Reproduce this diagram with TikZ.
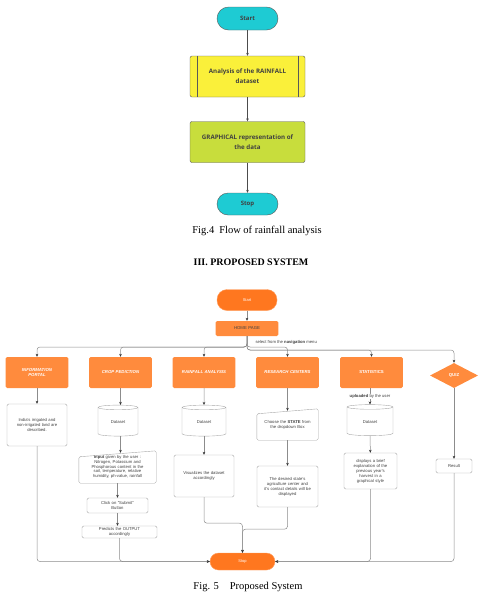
\documentclass[tikz,border=0pt]{standalone}
\usepackage{fontspec}
\setmainfont{Liberation Serif}
\newfontfamily\flowfont{Open Sans}
\newfontfamily\sysfont{Liberation Sans}
\usetikzlibrary{shapes.geometric,arrows.meta}

\definecolor{termcyan}{HTML}{1ECBD3}
\definecolor{anayellow}{HTML}{FAF03A}
\definecolor{graphgreen}{HTML}{C8DD3C}
\definecolor{termorange}{HTML}{FF771F}
\definecolor{menuorange}{HTML}{FF8B3D}
\definecolor{linegray}{HTML}{8C8C8C}
\definecolor{boxgray}{HTML}{A8A8A8}
\definecolor{txtgray}{HTML}{404040}

\tikzset{
  % first chart (Fig. 4)
  termfour/.style={draw=black!65, fill=termcyan, rounded corners=11.5pt,
    minimum width=61pt, minimum height=23pt, text=txtgray,
    font=\flowfont\bfseries\fontsize{6}{7}\selectfont},
  procfour/.style={draw=black!65, rounded corners=2pt, minimum width=115pt,
    minimum height=41pt, align=center, text=txtgray,
    font=\flowfont\bfseries\fontsize{6.2}{9.8}\selectfont},
  % second chart (Fig. 5)
  termfive/.style={fill=termorange, draw=termorange!70, rounded corners=9pt,
    minimum height=19pt, text=white, font=\sysfont\fontsize{4}{5}\selectfont},
  menufive/.style={fill=menuorange, rounded corners=1.5pt, minimum width=60pt,
    minimum height=31pt, text width=56pt, align=center, text=white,
    font=\sysfont\bfseries\itshape\fontsize{4.3}{5.3}\selectfont},
  boxfive/.style={draw=boxgray, fill=white, rounded corners=1.5pt, inner sep=1pt,
    align=center, text=txtgray, font=\sysfont\fontsize{4.2}{5}\selectfont},
  dbfive/.style={cylinder, shape border rotate=90, aspect=0.22, draw=boxgray,
    minimum width=44pt, minimum height=31pt, text=txtgray,
    font=\sysfont\fontsize{4.2}{5}\selectfont},
  slantfive/.style={inner sep=1pt, align=center, text=txtgray,
    font=\sysfont\fontsize{4.2}{4.8}\selectfont},
  link/.style={draw=linegray, line width=0.5pt, rounded corners=3pt},
  arrow/.style={link, -{Stealth[length=3pt,width=2.6pt,color=black!80]}},
}

\begin{document}
\begin{tikzpicture}[x=1pt, y=-1pt, >={Stealth[length=3pt,width=2.6pt]}]
  \useasboundingbox (0,0) rectangle (491,603);

  % Fig. 4
  \node[termfour] (start4) at (247.5,18.5) {Start};
  \node[procfour, fill=anayellow] (ana) at (247.5,76.5) {Analysis of the RAINFALL\\dataset};
  \node[procfour, fill=graphgreen] (graph) at (247.5,142) {GRAPHICAL representation of\\the data};
  \node[termfour, minimum height=22pt, rounded corners=11pt] (stop4) at (247.5,204) {Stop};
  \draw[black!65] ([xshift=7pt]ana.north west) -- ([xshift=7pt]ana.south west);
  \draw[black!65] ([xshift=-7pt]ana.north east) -- ([xshift=-7pt]ana.south east);

  \draw[->, black!70, line width=0.5pt] (start4) to (ana);
  \draw[->, black!70, line width=0.5pt] (ana) to (graph);
  \draw[->, black!70, line width=0.5pt] (graph) to (stop4);

  \node[font=\fontsize{10.5}{12}\selectfont] (cap4) at (257,231) {Fig.4\hspace{5pt}Flow of rainfall analysis};
  \node[font=\bfseries\fontsize{10}{12}\selectfont] (sect) at (251,262) {III. PROPOSED SYSTEM};

  % Fig. 5
  \node[termfive, minimum width=60pt, minimum height=21pt, rounded corners=10pt] (start5) at (247,300) {Start};
  \node[menufive, minimum height=15pt, text=txtgray, font=\sysfont\fontsize{4.3}{5}\selectfont] (home) at (247,328.5) {HOME PAGE};
  \coordinate (bus) at (247,347);
  \coordinate (busb) at (247,350);
  \node[font=\sysfont\fontsize{4.2}{5}\selectfont, text=txtgray, anchor=west] (navtxt) at (252,342) {select from the \textbf{navigation} menu};

  \node[menufive] (info) at (37,372.5) {INFORMATION\\PORTAL};
  \node[menufive] (crop) at (120.5,372.5) {CROP PEDICTION};
  \node[menufive] (rain) at (204,372.5) {RAINFALL ANALYSIS};
  \node[menufive] (rc) at (287.5,372.5) {RESEARCH CENTERS};
  \node[menufive, font=\sysfont\bfseries\fontsize{4.3}{5.3}\selectfont] (stat) at (371.5,372.5) {STATISTICS};
  \node[diamond, fill=menuorange, aspect=1.9, inner sep=0pt, minimum width=48pt, minimum height=25pt,
    text=white, font=\sysfont\bfseries\fontsize{4.3}{5}\selectfont] (quiz) at (454,375.5) {QUIZ};

  % column texts
  \node[boxfive, minimum width=60pt, minimum height=42pt, text width=56pt] (infotxt) at (37,425) {India's irrigated and\\non-irrigated land are\\described.};

  \node[dbfive, minimum width=40pt] (cropdb) at (118,422.5) {Dataset};
  \node[slantfive, minimum width=77pt, minimum height=32pt, text width=74pt] (inp) at (117.5,467) {\textbf{Input} given by the user :\\Nitrogen, Potassium and\\Phosphorous content in the\\soil, temperature, relative\\humidity, ph-value, rainfall};
  \draw[draw=boxgray, rounded corners=1.5pt] (inp.south west) -- ([yshift=-6pt]inp.north west) -- (inp.north east) -- (inp.south east) -- cycle;
  \node[boxfive, minimum width=61pt, minimum height=15pt, text width=58pt] (click) at (117.5,505.5) {Click on "Submit"\\Button};
  \node[boxfive, minimum width=75pt, minimum height=12pt, text width=72pt] (pred) at (119.5,532) {Predicts the OUTPUT\\accordingly};

  \node[dbfive] (raindb) at (204,422.5) {Dataset};
  \node[boxfive, minimum width=60pt, minimum height=42pt, text width=56pt] (viz) at (204,476) {Visualizes the dataset\\accordingly};

  \node[slantfive, minimum width=61pt, minimum height=31pt, text width=58pt, font=\sysfont\fontsize{4.2}{5}\selectfont] (choose) at (287.5,424.5) {Choose the \textbf{STATE} from\\the dropdown Box};
  \draw[draw=boxgray, rounded corners=1.5pt] (choose.south west) -- ([yshift=-5pt]choose.north west) -- (choose.north east) -- (choose.south east) -- cycle;
  \node[boxfive, minimum width=61pt, minimum height=41pt, text width=58pt] (rcdesc) at (287.5,486.5) {The desired state's\\agriculture center and\\it's contact details will be\\displayed};

  \node[dbfive, minimum width=46pt] (statdb) at (370,422) {Dataset};
  \node[boxfive, minimum width=53pt, minimum height=36pt, text width=50pt] (stattxt) at (370.5,471) {displays a brief\\explanation of the\\previous year's\\harvest in a\\graphical style};

  \node[boxfive, minimum width=36pt, minimum height=14pt] (result) at (454,466) {Result};

  \node[termfive, minimum width=65pt, minimum height=17pt, rounded corners=8.5pt] (stop5) at (242.5,561.5) {Stop};

  % connectors
  \draw[arrow] (start5) -- (home);
  \draw[arrow] (home.south) -- (bus) -| (info.north);
  \draw[arrow] (home.south) -- (bus) -| (crop.north);
  \draw[arrow] (home.south) -- (bus) -| (rain.north);
  \draw[arrow] (home.south) -- (bus) -| (rc.north);
  \draw[arrow] (home.south) -- (busb) -| (stat.north);
  \draw[arrow] (home.south) -- (busb) -| (quiz.north);

  \draw[arrow] (info) -- (infotxt);
  \draw[arrow] (crop) -- (crop.south |- cropdb.north);
  \draw[arrow] (cropdb.south -| crop.south) -- ([yshift=-2pt]inp.north -| crop.south);
  \draw[arrow] (inp) -- (click);
  \draw[arrow] (click) -- (click.south |- pred.north);
  \draw[arrow] (rain) -- (raindb);
  \draw[arrow] (raindb) -- (viz);
  \draw[arrow] (rc) -- ([yshift=-2pt]choose.north);
  \draw[arrow] (choose) -- (rcdesc);
  \draw[arrow] (stat.south -| statdb.north) -- node[fill=white, inner sep=0.5pt, text=txtgray, font=\sysfont\fontsize{4.2}{5}\selectfont] (uptxt) {\textbf{uploaded} by the user} (statdb.north);
  \draw[arrow] (statdb) -- (stattxt);
  \draw[arrow] (quiz) -- (result);

  \draw[arrow] (infotxt.south) |- (stop5.west);
  \draw[arrow] (pred.south) |- (stop5.west);
  \draw[arrow] (viz.south) -- ++(0,26) -| (stop5.north);
  \draw[arrow] (rcdesc.south) -- ++(0,22) -| (stop5.north);
  \draw[arrow] (stattxt.south) |- (stop5.east);
  \draw[arrow] (result.south) |- (stop5.east);

  \node[font=\fontsize{10.5}{12}\selectfont] (cap5) at (248,587) {Fig. 5\hspace{11pt}Proposed System};
\end{tikzpicture}
\end{document}
